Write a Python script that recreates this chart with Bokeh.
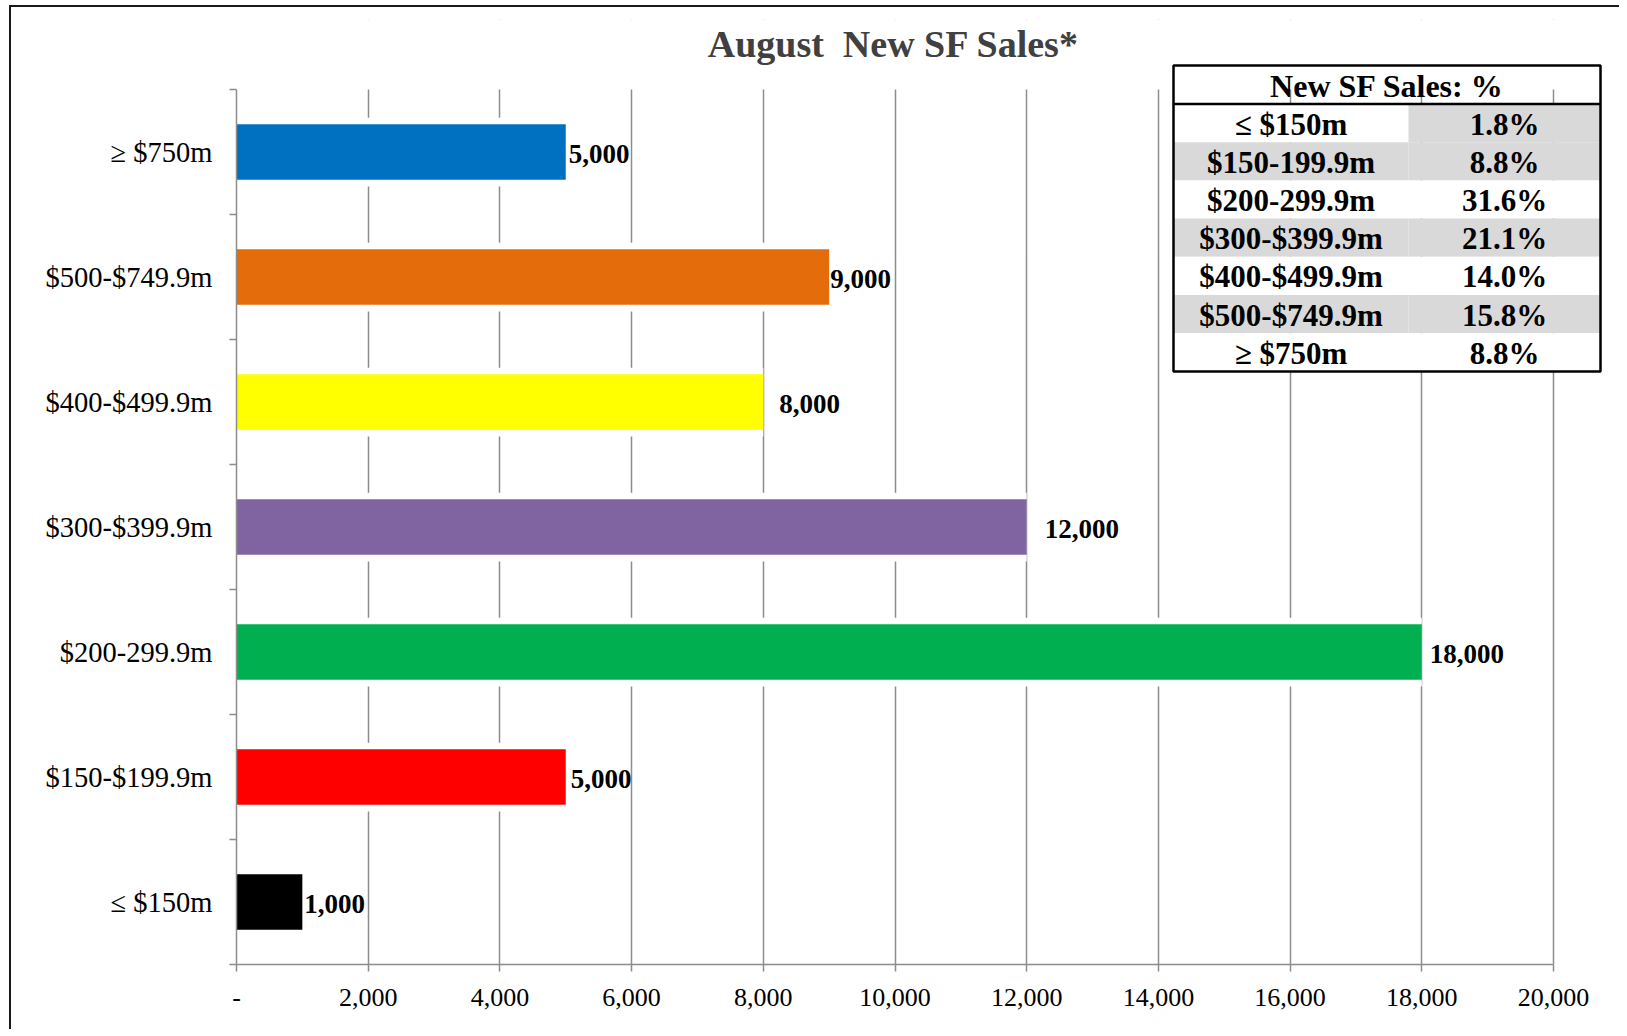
from bokeh.plotting import figure
from bokeh.models import Range1d, FixedTicker, ColumnDataSource
from bokeh.core.properties import value
from bokeh.embed import file_html
from bokeh.resources import INLINE

# ---------------- data ----------------
categories = ["≤ $150m", "$150-$199.9m", "$200-299.9m", "$300-$399.9m",
              "$400-$499.9m", "$500-$749.9m", "≥ $750m"]
sales = [1000, 5000, 18000, 12000, 8000, 9000, 5000]
bar_colors = ["#000000", "#FF0000", "#00B050", "#8064A2", "#FFFF00", "#E46C0A", "#0070C0"]
x_ticks = [0, 2000, 4000, 6000, 8000, 10000, 12000, 14000, 16000, 18000, 20000]

table_title = "New SF Sales: %"
table_labels = ["≤ $150m", "$150-199.9m", "$200-299.9m", "$300-$399.9m",
                "$400-$499.9m", "$500-$749.9m", "≥ $750m"]
table_pcts = ["1.8%", "8.8%", "31.6%", "21.1%", "14.0%", "15.8%", "8.8%"]
chart_title = "August\u00a0 New SF Sales*"

# ---------------- layout helpers (page px -> data) ----------------
FONT = "Liberation Serif"
GRAY = "#8C8C8C"
CANVAS_X, CANVAS_Y = 11, 8
W, H = 1610, 1024
X0_PX, X20K_PX = 236, 1553
Y_TOP_PX, ROW_PX = 90, 125
X_END = (CANVAS_X + W - X0_PX) / (X20K_PX - X0_PX) * 20000
Y_END = 6.5 + (Y_TOP_PX - 20) / ROW_PX


def dx(px):
    return (px - X0_PX) / (X20K_PX - X0_PX) * 20000


def dy(py):
    return 6.5 - (py - Y_TOP_PX) / ROW_PX


p = figure(width=W, height=H, output_backend="svg", toolbar_location=None,
           x_range=Range1d(0, X_END), y_range=Range1d(-0.5, Y_END),
           min_border_left=X0_PX - CANVAS_X, min_border_right=0,
           min_border_top=20 - CANVAS_Y,
           min_border_bottom=CANVAS_Y + H - 965)
p.outline_line_color = None
p.background_fill_color = "white"
p.border_fill_color = "white"
p.styles = {"border-left": "2px solid #1a1a1a", "border-top": "2px solid #1a1a1a",
            "margin-left": "9px", "margin-top": "5px"}

# ---------------- axes ----------------
ypos = list(range(len(categories)))
p.yaxis.ticker = FixedTicker(ticks=ypos, minor_ticks=[i - 0.5 for i in range(len(categories) + 1)])
p.yaxis.major_label_overrides = {i: c for i, c in zip(ypos, categories)}
p.yaxis.bounds = (-0.5, 6.5)
p.yaxis.major_tick_out = 0
p.yaxis.major_tick_in = 0
p.yaxis.minor_tick_out = 7
p.yaxis.minor_tick_in = 0
p.yaxis.minor_tick_line_color = GRAY
p.yaxis.minor_tick_line_width = 1.5
p.yaxis.axis_line_color = GRAY
p.yaxis.axis_line_width = 1.5
p.yaxis.major_label_standoff = 17
p.yaxis.major_label_text_font = FONT
p.yaxis.major_label_text_font_size = "28.5px"
p.yaxis.major_label_text_color = "black"

p.xaxis.ticker = FixedTicker(ticks=x_ticks)
p.xaxis.major_label_overrides = {t: ("-" if t == 0 else f"{t:,}") for t in x_ticks}
p.xaxis.bounds = (0, 20000)
p.xaxis.major_tick_out = 7
p.xaxis.major_tick_in = 0
p.xaxis.major_tick_line_color = GRAY
p.xaxis.major_tick_line_width = 1.5
p.xaxis.minor_tick_line_color = None
p.xaxis.axis_line_color = GRAY
p.xaxis.axis_line_width = 1.5
p.xaxis.major_label_standoff = 17
p.xaxis.major_label_text_font = FONT
p.xaxis.major_label_text_font_size = "26px"
p.xaxis.major_label_text_color = "black"

p.ygrid.visible = False
p.xgrid.ticker = FixedTicker(ticks=x_ticks)
p.xgrid.grid_line_color = GRAY
p.xgrid.grid_line_width = 1.5

# cover above plot area (grid stops at plot top)
p.quad(left=[0], right=[X_END], bottom=[6.5], top=[Y_END], fill_color="white", line_color=None)

# ---------------- bars ----------------
src = ColumnDataSource(dict(y=ypos, v=sales, c=bar_colors,
                            lab=[f"{v:,}" for v in sales]))
p.hbar(y="y", left=0, right="v", height=0.55, source=src, fill_color="white", line_color=None)
p.hbar(y="y", left=0, right="v", height=0.445, source=src, fill_color="c", line_color=None)

label_dx = [2, 5, 8, 18, 16, 1, 3]
for yy, v, lab, off in zip(ypos, sales, src.data["lab"], label_dx):
    p.text(x=[v], y=[yy], text=[lab], x_offset=off, y_offset=2,
           text_font=value(FONT), text_font_style="bold", text_font_size="27px",
           text_align="left", text_baseline="middle", text_color="black")

# ---------------- title ----------------
p.text(x=[dx(893)], y=[dy(44)], text=[chart_title], text_font=value(FONT),
       text_font_style="bold", text_font_size="38px", text_color="#404040",
       text_align="center", text_baseline="middle")

# ---------------- table ----------------
T_L, T_R, T_MID = 1173, 1600, 1408
T_TOP, T_HEAD, ROW_H = 66, 104.5, 38.2
shade_left = [False, True, False, True, False, True, False]
shade_right = [True, True, False, True, False, True, False]
cl, cr, cb, ct, cc = [], [], [], [], []
for i in range(len(table_labels)):
    top = T_HEAD + i * ROW_H
    bot = top + ROW_H
    for (l, r, sh) in ((T_L, T_MID, shade_left[i]), (T_MID, T_R, shade_right[i])):
        cl.append(dx(l)); cr.append(dx(r)); ct.append(dy(top)); cb.append(dy(bot))
        cc.append("#D9D9D9" if sh else "white")
p.quad(left=cl, right=cr, top=ct, bottom=cb, fill_color=cc, line_color=None)
T_BOT = T_HEAD + len(table_labels) * ROW_H
p.quad(left=[dx(T_L)], right=[dx(T_R)], top=[dy(T_TOP)], bottom=[dy(T_BOT)],
       fill_color=None, line_color="black", line_width=2.5)
p.segment(x0=[dx(T_L)], x1=[dx(T_R)], y0=[dy(T_HEAD)], y1=[dy(T_HEAD)],
          line_color="black", line_width=2.5)

p.text(x=[dx((T_L + T_R) / 2)], y=[dy(86)], text=[table_title], text_font=value(FONT),
       text_font_style="bold", text_font_size="32px", text_color="black",
       text_align="center", text_baseline="middle")
row_y = [dy(T_HEAD + (i + 0.5) * ROW_H + 1) for i in range(len(table_labels))]
p.text(x=[dx((T_L + T_MID) / 2)] * len(table_labels), y=row_y, text=table_labels,
       text_font=value(FONT), text_font_style="bold", text_font_size="31px",
       text_color="black", text_align="center", text_baseline="middle")
p.text(x=[dx((T_MID + T_R) / 2)] * len(table_pcts), y=row_y, text=table_pcts,
       text_font=value(FONT), text_font_style="bold", text_font_size="31px",
       text_color="black", text_align="center", text_baseline="middle")

open("out.html", "w").write(file_html(p, INLINE))
